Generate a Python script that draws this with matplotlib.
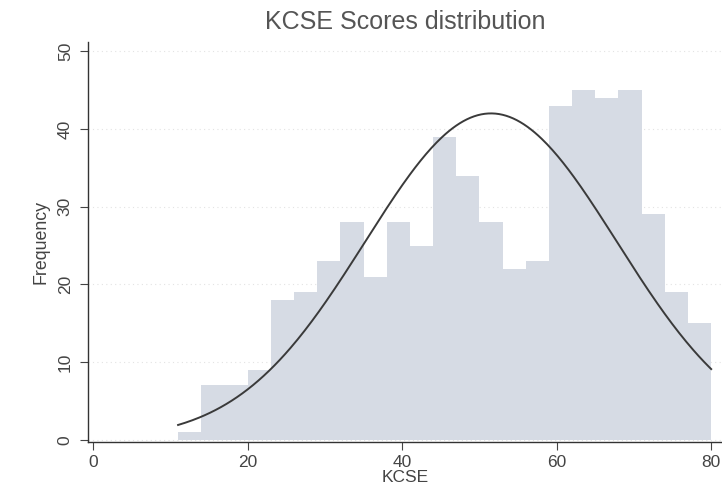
import numpy as np
import matplotlib.pyplot as plt

plt.rcParams['font.family'] = ['Liberation Sans', 'DejaVu Sans']

# histogram bins (width 3, starting at 11)
bin_left = [11, 14, 17, 20, 23, 26, 29, 32, 35, 38, 41, 44,
            47, 50, 53, 56, 59, 62, 65, 68, 71, 74, 77]
freq = [1, 7, 7, 9, 18, 19, 23, 28, 21, 28, 25, 39,
        34, 28, 22, 23, 43, 45, 44, 45, 29, 19, 15]
bin_width = 3

# fitted normal overlay
kcse_mean = 51.5
kcse_sd = 16.3
xticks = [0, 20, 40, 60, 80]
yticks = [0, 10, 20, 30, 40, 50]

fig = plt.figure(figsize=(7.22, 4.87), dpi=100)
ax = fig.add_axes([0.122, 0.092, 0.878, 0.822])

ax.bar(bin_left, freq, width=bin_width, align='edge', color='#d6dbe4',
       edgecolor='none', zorder=2)

n = sum(freq)
xs = np.linspace(bin_left[0], bin_left[-1] + bin_width, 300)
dens = n * bin_width / (kcse_sd * np.sqrt(2 * np.pi)) * np.exp(-0.5 * ((xs - kcse_mean) / kcse_sd) ** 2)
ax.plot(xs, dens, color='#3a3a3a', lw=1.4, zorder=3)

ax.set_xlim(-0.65, 81.4)
ax.set_ylim(-0.3, 51.2)
ax.set_xticks(xticks)
ax.set_yticks(yticks)
ax.grid(axis='y', color='#e3e3e3', lw=0.8, ls=(0, (1, 3)), zorder=0)

for s in ['top', 'right']:
    ax.spines[s].set_visible(False)
for s in ['left', 'bottom']:
    ax.spines[s].set_color('#333333')
    ax.spines[s].set_linewidth(1.0)

ax.tick_params(colors='#444444', labelsize=12.5, length=6)
ax.tick_params(axis='y', labelrotation=90, pad=5)
for lab in ax.get_yticklabels():
    lab.set_va('center')

ax.set_ylabel('Frequency', fontsize=12.8, color='#444444', labelpad=6)
ax.set_xlabel('KCSE', fontsize=12.5, color='#444444', labelpad=0)
ax.set_title('KCSE Scores distribution', fontsize=18, color='#555555', pad=9)

fig.savefig('out.png', dpi=100)
